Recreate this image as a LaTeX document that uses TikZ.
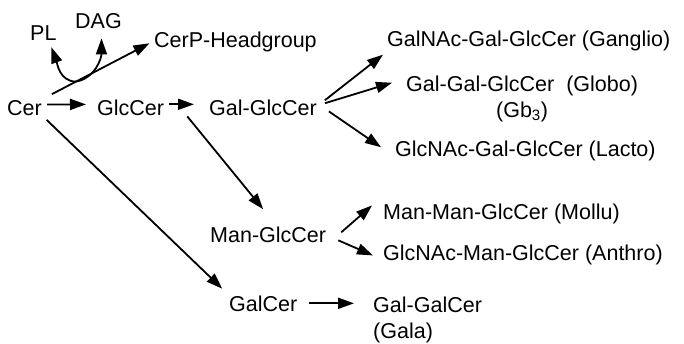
\documentclass[tikz,border=0pt]{standalone}
\usepackage{fontspec}
\setmainfont{Liberation Sans}
\usetikzlibrary{arrows.meta,calc}
\tikzset{
  node-txt/.style={inner sep=1pt,anchor=base west,
    font=\fontsize{21.5}{25.5}\selectfont},
  node-two/.style={node-txt,align=center},
  node-two-left/.style={node-txt,align=left},
  arrow/.style={-{Triangle[length=16pt,width=11pt]},line width=1.8pt},
}

\begin{document}
\begin{tikzpicture}[x=1pt,y=-1pt]
  \useasboundingbox (0,0) rectangle (684,343);
  % left part
  \node[node-txt] (pl)     at (29,40)  {PL};
  \node[node-txt] (dag)    at (74,28)  {DAG};
  \node[node-txt] (cerp)   at (153,47) {CerP-Headgroup};
  \node[node-txt] (cer)    at (6,115)  {Cer};
  \node[node-txt] (glc)    at (96,115) {GlcCer};
  \node[node-txt] (gal)    at (208,115) {Gal-GlcCer};
  \node[node-txt] (man)    at (209,242) {Man-GlcCer};
  \node[node-txt] (galcer) at (228,311) {GalCer};
  % series (two-line nodes sit on their last line)
  \node[node-txt]      (gan)   at (386,46)  {GalNAc-Gal-GlcCer (Ganglio)};
  \node[node-two]      (globo) at (405,117) {Gal-Gal-GlcCer\ \ (Globo)\\(Gb\textsubscript{3})};
  \node[node-txt]      (lacto) at (394,156) {GlcNAc-Gal-GlcCer (Lacto)};
  \node[node-txt]      (mm)    at (382,219) {Man-Man-GlcCer (Mollu)};
  \node[node-txt]      (gm)    at (382,260) {GlcNAc-Man-GlcCer (Anthro)};
  \node[node-two-left] (gg)    at (372,338) {Gal-GalCer\\(Gala)};

  \draw[arrow,shorten <=10pt,shorten >=4pt] (cer.north east)
    -- coordinate[pos=0.30] (fork) (cerp.west);
  \draw[arrow] (fork) to[out=180,in=-70] ([xshift=8pt,yshift=-6pt]pl.south);
  \draw[arrow] (fork) to[out=10,in=-90] ([xshift=3pt,yshift=-9pt]dag.south);

  \draw[arrow,shorten <=4pt,shorten >=10pt] ([yshift=3pt]cer.east) -- ([yshift=3pt]glc.west);
  \draw[arrow,shorten <=4pt,shorten >=14pt] ([yshift=3pt]glc.east) -- ([yshift=3pt]gal.west);
  \draw[arrow,shorten <=5pt,shorten >=8pt] (cer.south east) -- (galcer.north west);
  \draw[arrow] ([xshift=22pt]glc.south east) -- ([xshift=-5pt,yshift=16pt]man.north);

  \draw[arrow] ([shift={(7pt,-2pt)}]gal.north east) -- ([shift={(-3pt,-3pt)}]gan.south west);
  \draw[arrow] ([shift={(7pt,-5pt)}]gal.north east) -- ([shift={(-13pt,-8pt)}]globo.north west);
  \draw[arrow] ([shift={(11pt,5pt)}]gal.south east) -- ([shift={(-13pt,-8pt)}]lacto.north west);

  \draw[arrow] ([shift={(14pt,2pt)}]man.east) -- ([shift={(-10pt,8pt)}]mm.west);
  \draw[arrow] ([shift={(11pt,-6pt)}]man.east) -- ([shift={(-9pt,-1pt)}]gm.west);

  \draw[arrow,shorten <=10pt,shorten >=18pt] (galcer.east) -- (galcer.east -| gg.west);
\end{tikzpicture}
\end{document}
